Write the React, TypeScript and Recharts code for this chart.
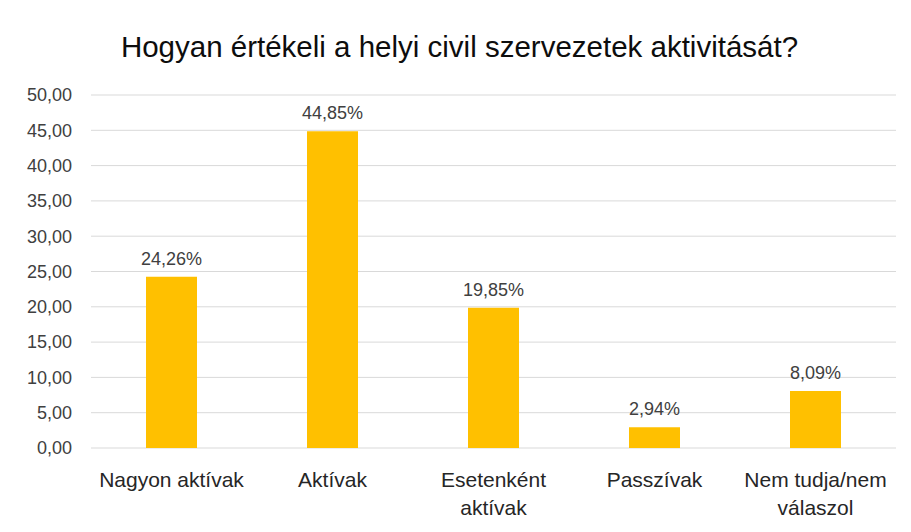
import React from "react";
import { BarChart, Bar, XAxis, YAxis, CartesianGrid, LabelList } from "recharts";

const categories = ["Nagyon aktívak", "Aktívak", "Esetenként\naktívak", "Passzívak", "Nem tudja/nem\nválaszol"];
const values = [24.26, 44.85, 19.85, 2.94, 8.09];
const yTicks = [0, 5, 10, 15, 20, 25, 30, 35, 40, 45, 50];
const title = "Hogyan értékeli a helyi civil szervezetek aktivitását?";

const data = categories.map((c, i) => ({ name: c, value: values[i] }));
const FONT = "'Liberation Sans', Arial, sans-serif";

const fmtTick = (v: number) => v.toFixed(2).replace(".", ",");
const fmtLabel = (v: any) => Number(v).toFixed(2).replace(".", ",") + "%";

const CatTick = (props: any) => {
  const { x, y, payload } = props;
  const lines = String(payload.value).split("\n");
  return (
    <g>
      {lines.map((l: string, i: number) => (
        <text key={i} x={x} y={y + 31 + i * 28} textAnchor="middle" fill="#262626" fontSize={21} fontFamily={FONT}>
          {l}
        </text>
      ))}
    </g>
  );
};

export default function App() {
  return (
    <div style={{ width: 903, height: 524, border: "1px solid #d9d9d9", borderRight: "none", borderBottom: "none", marginLeft: -1, marginTop: -1, background: "#fff", position: "relative" }}>
      <div style={{ position: "absolute", left: 0, top: 22, width: 903, textAlign: "center", fontFamily: FONT, fontSize: 29.5, color: "#0d0d0d" }}>
        {title}
      </div>
      <BarChart width={903} height={524} data={data} margin={{ top: 87, right: 15, bottom: 0, left: 0 }}>
        <CartesianGrid vertical={false} stroke="#d9d9d9" />
        <XAxis dataKey="name" axisLine={false} tickLine={false} height={84} tick={<CatTick />} interval={0} />
        <YAxis
          domain={[0, 50]}
          ticks={yTicks}
          width={83}
          axisLine={false}
          tickLine={false}
          tickFormatter={fmtTick}
          tick={{ fill: "#404040", fontSize: 18, fontFamily: FONT }}
          tickMargin={13}
        />
        <Bar dataKey="value" fill="#FFC000" barSize={51} isAnimationActive={false}>
          <LabelList dataKey="value" position="top" offset={12} formatter={fmtLabel} fill="#404040" fontSize={18} fontFamily={FONT} />
        </Bar>
      </BarChart>
    </div>
  );
}
